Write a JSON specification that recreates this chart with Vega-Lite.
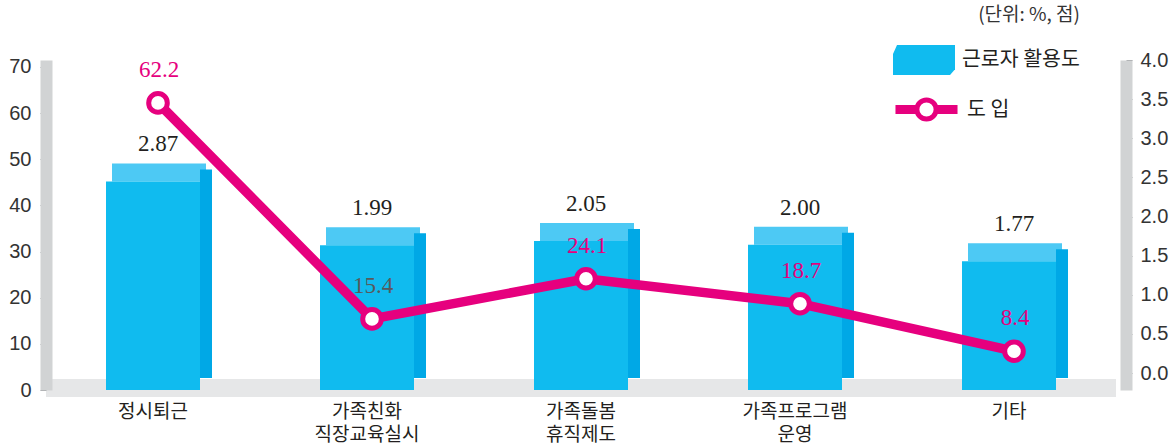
{
  "$schema": "https://vega.github.io/schema/vega-lite/v6.json",
  "width": 1070,
  "height": 330,
  "autosize": {"type": "none"},
  "padding": {"left": 46, "top": 60, "right": 56, "bottom": 56},
  "background": "white",
  "config": {"view": {"stroke": null}, "font": "Noto Sans CJK KR"},
  "data": {"values": [
    {"cat": "정시퇴근", "use": 2.87, "intro": 62.2},
    {"cat": "가족친화 직장교육실시", "use": 1.99, "intro": 15.4},
    {"cat": "가족돌봄 휴직제도", "use": 2.05, "intro": 24.1},
    {"cat": "가족프로그램 운영", "use": 2.00, "intro": 18.7},
    {"cat": "기타", "use": 1.77, "intro": 8.4}
  ]},
  "resolve": {"scale": {"y": "independent"}, "axis": {"y": "independent"}},
  "layer": [
    {
      "mark": {"type": "rect", "color": "#e6e7e8", "yOffset": -11, "y2Offset": 7},
      "encoding": {
        "y": {"datum": 0, "type": "quantitative", "scale": {"domain": [0, 71.5], "nice": false}, "axis": null},
        "y2": {"datum": 0}
      }
    },
    {
      "encoding": {
        "x": {"field": "cat", "type": "nominal", "sort": null, "title": null,
          "scale": {"paddingInner": 0, "paddingOuter": 0},
          "axis": {"title": null, "domain": false, "ticks": false, "labelFont": "Noto Sans CJK KR", "labelFontSize": 19, "labelColor": "#231f20", "labelPadding": 12, "labelLineHeight": 23, "labelExpr": "split(datum.label, ' ')", "labelAngle": 0}},
        "y": {"field": "use", "type": "quantitative", "scale": {"domain": [0, 4.54], "nice": false}, "axis": null}
      },
      "layer": [
        {"mark": {"type": "bar", "width": 94, "xOffset": 6, "yOffset": -18, "y2Offset": 0, "color": "#4dc9f4"},
         "encoding": {"y2": {"field": "use"}}},
        {"mark": {"type": "bar", "width": 12, "xOffset": 53, "yOffset": -12, "y2Offset": -9, "color": "#00a8e6"}},
        {"mark": {"type": "bar", "width": 94},
         "encoding": {"fill": {"datum": "근로자 활용도", "type": "nominal", "scale": {"range": ["#10bbef"]},
           "legend": {"orient": "none", "legendX": 847, "legendY": -54, "title": "(단위: %, 점)", "titleAnchor": "end", "titleFont": "Noto Sans CJK KR", "titleFontSize": 19, "titleFontWeight": "normal", "titleColor": "#333333", "titlePadding": 4,
             "symbolType": "M-1,-0.19L-0.87,-0.48L1,-0.48L1,0.3L0.84,0.48L-1,0.48Z", "symbolSize": 3844, "symbolStrokeWidth": 0,
             "labelFont": "Noto Sans CJK KR", "labelFontSize": 20.5, "labelColor": "#231f20", "labelOffset": 7, "padding": 0}}}},
        {"mark": {"type": "text", "dy": -37, "dx": 5, "font": "Liberation Serif", "fontSize": 23, "color": "#231f20"},
         "encoding": {"text": {"field": "use", "type": "quantitative", "format": ".2f"}}}
      ]
    },
    {
      "encoding": {
        "x": {"field": "cat", "type": "nominal", "sort": null, "title": null,
          "scale": {"paddingInner": 0, "paddingOuter": 0},
          "axis": {"title": null, "domain": false, "ticks": false, "labelFont": "Noto Sans CJK KR", "labelFontSize": 19, "labelColor": "#231f20", "labelPadding": 12, "labelLineHeight": 23, "labelExpr": "split(datum.label, ' ')", "labelAngle": 0}},
        "y": {"field": "intro", "type": "quantitative", "scale": {"domain": [0, 71.5], "nice": false},
          "axis": {"orient": "left", "title": null, "values": [0, 10, 20, 30, 40, 50, 60, 70], "grid": false, "domainColor": "#d1d3d4", "domainWidth": 12, "tickColor": "#939598", "tickSize": 6, "tickWidth": 1, "labelFont": "Liberation Sans", "labelFontSize": 20, "labelColor": "#333333", "labelPadding": 9, "zindex": 1}}
      },
      "layer": [
        {"mark": {"type": "line", "color": "#e6007e", "strokeWidth": 9.5, "xOffset": 5}},
        {"mark": {"type": "point", "size": 346, "filled": true, "fill": "white", "strokeWidth": 5, "opacity": 1, "xOffset": 5},
         "encoding": {"stroke": {"datum": "도 입", "type": "nominal", "scale": {"range": ["#e6007e"]},
           "legend": {"orient": "none", "legendX": 847, "legendY": 16, "title": null,
             "symbolType": "M-0.92,-0.065L-0.31,-0.065L-0.31,0.065L-0.92,0.065Z M0.31,-0.065L0.92,-0.065L0.92,0.065L0.31,0.065Z M0.31,0A0.31,0.31 0 1,1 -0.31,0A0.31,0.31 0 1,1 0.31,0Z",
             "symbolSize": 3844, "symbolStrokeWidth": 5, "symbolFillColor": "white",
             "labelFont": "Noto Sans CJK KR", "labelFontSize": 20.5, "labelColor": "#231f20", "labelOffset": 7, "padding": 0}}}},
        {"mark": {"type": "text", "dy": -33, "dx": 6, "font": "Liberation Serif", "fontSize": 23},
         "encoding": {"text": {"field": "intro", "type": "quantitative", "format": ".1f"},
           "color": {"condition": {"test": "datum.cat === '가족친화 직장교육실시'", "value": "#58595b"}, "value": "#e6007e"}}}
      ]
    },
    {
      "mark": {"type": "point", "opacity": 0},
      "encoding": {
        "y": {"datum": 0, "type": "quantitative", "scale": {"domain": [-0.217, 4], "nice": false, "zero": false},
          "axis": {"orient": "right", "title": null, "values": [0, 0.5, 1, 1.5, 2, 2.5, 3, 3.5, 4], "format": ".1f", "offset": 10, "grid": false, "domainColor": "#d1d3d4", "domainWidth": 12, "tickColor": "#939598", "tickSize": 6, "tickWidth": 1, "labelFont": "Liberation Sans", "labelFontSize": 20, "labelColor": "#333333", "labelPadding": 8, "zindex": 1}}
      }
    }
  ]
}
